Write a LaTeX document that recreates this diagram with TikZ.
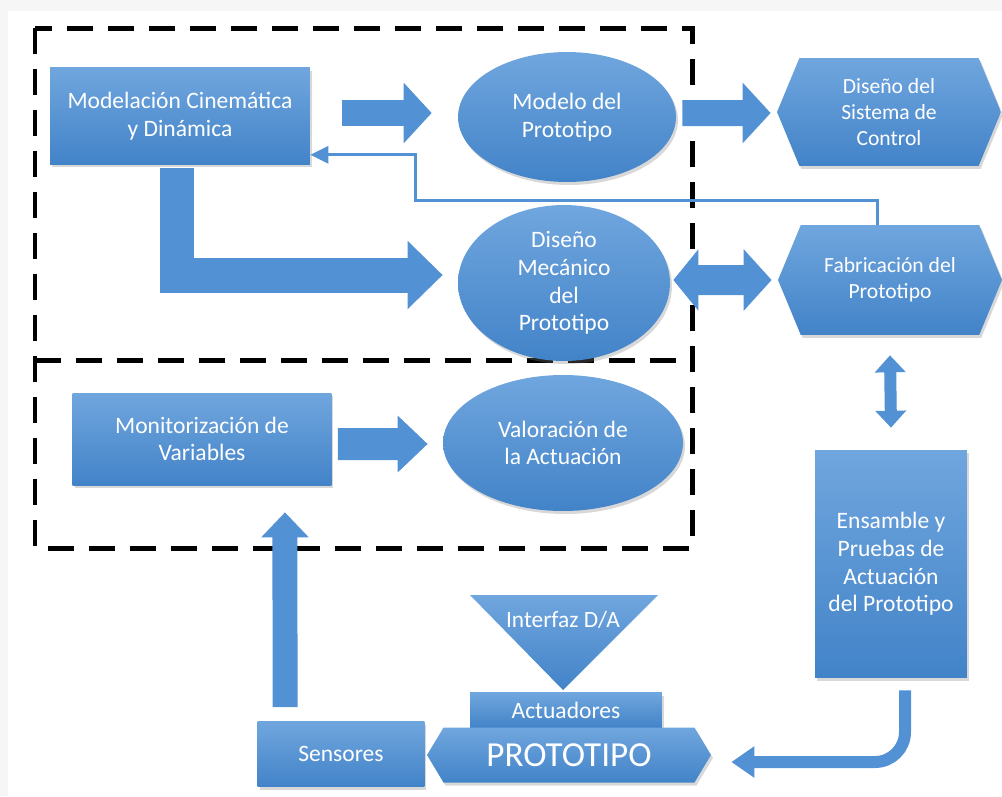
\documentclass[tikz,border=0pt]{standalone}
\usepackage{fontspec}
\setmainfont{Carlito}
\usetikzlibrary{shapes,shapes.symbols,arrows.meta,shadows}
\definecolor{azulc}{RGB}{112,166,222}
\definecolor{azulo}{RGB}{66,131,200}
\definecolor{azul}{RGB}{82,146,212}
\tikzstyle{bx}=[rectangle,top color=azulc,bottom color=azulo,text=white,align=center,inner sep=2pt,font=\fontsize{13.4}{15.8}\selectfont,drop shadow={opacity=.3,shadow xshift=.04cm,shadow yshift=-.06cm}]
\tikzstyle{el}=[bx,ellipse]
\tikzstyle{hx}=[bx,signal,signal to=east and west,signal pointer angle=135,font=\fontsize{12.3}{15}\selectfont]
\tikzstyle{ar}=[azul,line width=.52cm,-{Triangle[length=.56cm,width=1.18cm]}]
\tikzstyle{rayas}=[black,line width=.1cm,dash pattern=on .52cm off .3cm]

\begin{document}
\begin{tikzpicture}[x=.02cm,y=-.02cm]
\useasboundingbox (0,0) rectangle (1002,796);
\fill[gray!7] (0,0) rectangle (1002,796);
\fill[white] (8,11) rectangle (1002,796);
\draw[rayas] (35,28) rectangle (692,548);
\draw[rayas] (35,360) -- (692,360);
\node[bx,minimum width=5.2cm,minimum height=1.94cm] (modcin) at (180,116) {Modelación Cinemática\\y Dinámica};
\node[el,minimum width=4.36cm,minimum height=2.6cm] (modelo) at (567,117) {Modelo del\\Prototipo};
\node[hx,minimum width=4.48cm,minimum height=2.16cm] (sisctl) at (889,112) {Diseño del\\Sistema de\\Control};
\node[el,minimum width=4.24cm,minimum height=2.64cm] (dismec) at (564,283) {Diseño\\Mecánico\\del\\Prototipo};
\node[hx,minimum width=4.48cm,minimum height=2.2cm] (fabric) at (890,280) {Fabricación del\\Prototipo};
\node[bx,minimum width=3.04cm,minimum height=4.56cm] (ensam) at (891,564) {Ensamble y\\Pruebas de\\Actuación\\del Prototipo};
\node[bx,minimum width=5.18cm,minimum height=1.84cm] (monit) at (202,439) {Monitorización de\\Variables};
\node[el,minimum width=4.8cm,minimum height=2.72cm] (valor) at (563,443) {Valoración de\\la Actuación};
\shade[top color=azulc,bottom color=azulo] (470,595) -- (658,595) -- (563,690) -- cycle;
\node[text=white,font=\fontsize{13.3}{15}\selectfont] (interf) at (563,620) {Interfaz D/A};
\node[bx,minimum width=3.84cm,minimum height=.7cm] (actua) at (566,710) {Actuadores};
\node[hx,signal pointer angle=118,minimum width=5.68cm,minimum height=1.1cm,font=\fontsize{20}{22}\selectfont] (proto) at (569,755) {PROTOTIPO};
\node[bx,minimum width=3.34cm,minimum height=1.3cm] (sensor) at (341,754) {Sensores};
\draw[ar] ([xshift=.64cm,yshift=.06cm]modcin.east) -- ([xshift=-.52cm,yshift=.08cm]modelo.west);
\draw[ar] ([xshift=.12cm,yshift=.08cm]modelo.east) -- ([xshift=-.12cm,yshift=-.02cm]sisctl.west);
\draw[ar,line width=.7cm,-{Triangle[length=.7cm,width=1.32cm]}] ([xshift=-.06cm,yshift=-.06cm]modcin.south) |- ([xshift=-.3cm,yshift=.16cm]dismec.west);
\coordinate (fb) at (415,200);
\draw[azul,line width=.06cm,-{Triangle[length=.36cm,width=.34cm]}] ([xshift=-.26cm]fabric.north) |- (fb) |- ([yshift=.2cm]modcin.south east);
\draw[ar,line width=.6cm,{Triangle[length=.5cm,width=1.2cm]}-{Triangle[length=.56cm,width=1.2cm]}] ([xshift=.06cm,yshift=.06cm]dismec.east) -- ([xshift=-.12cm]fabric.west);
\draw[ar,line width=.24cm,{Triangle[length=.34cm,width=.6cm]}-{Triangle[length=.34cm,width=.6cm]}] ([yshift=-.4cm]fabric.south) -- ([yshift=.44cm]ensam.north);
\draw[ar,line width=.64cm,-{Triangle[length=.6cm,width=1.1cm]}] ([xshift=.12cm,yshift=-.1cm]monit.east) -- ([xshift=-.3cm,yshift=-.02cm]valor.west);
\draw[ar,line width=.5cm,-{Triangle[length=.5cm,width=.92cm]}] ([xshift=-1.12cm,yshift=.28cm]sensor.north) -- ([xshift=1.66cm,yshift=-.54cm]monit.south);
\draw[ar,line width=.24cm,rounded corners=.6cm,-{Triangle[length=.46cm,width=.6cm]}] ([xshift=.28cm,yshift=-.24cm]ensam.south) |- ([xshift=.4cm,yshift=-.14cm]proto.east);
\end{tikzpicture}
\end{document}
